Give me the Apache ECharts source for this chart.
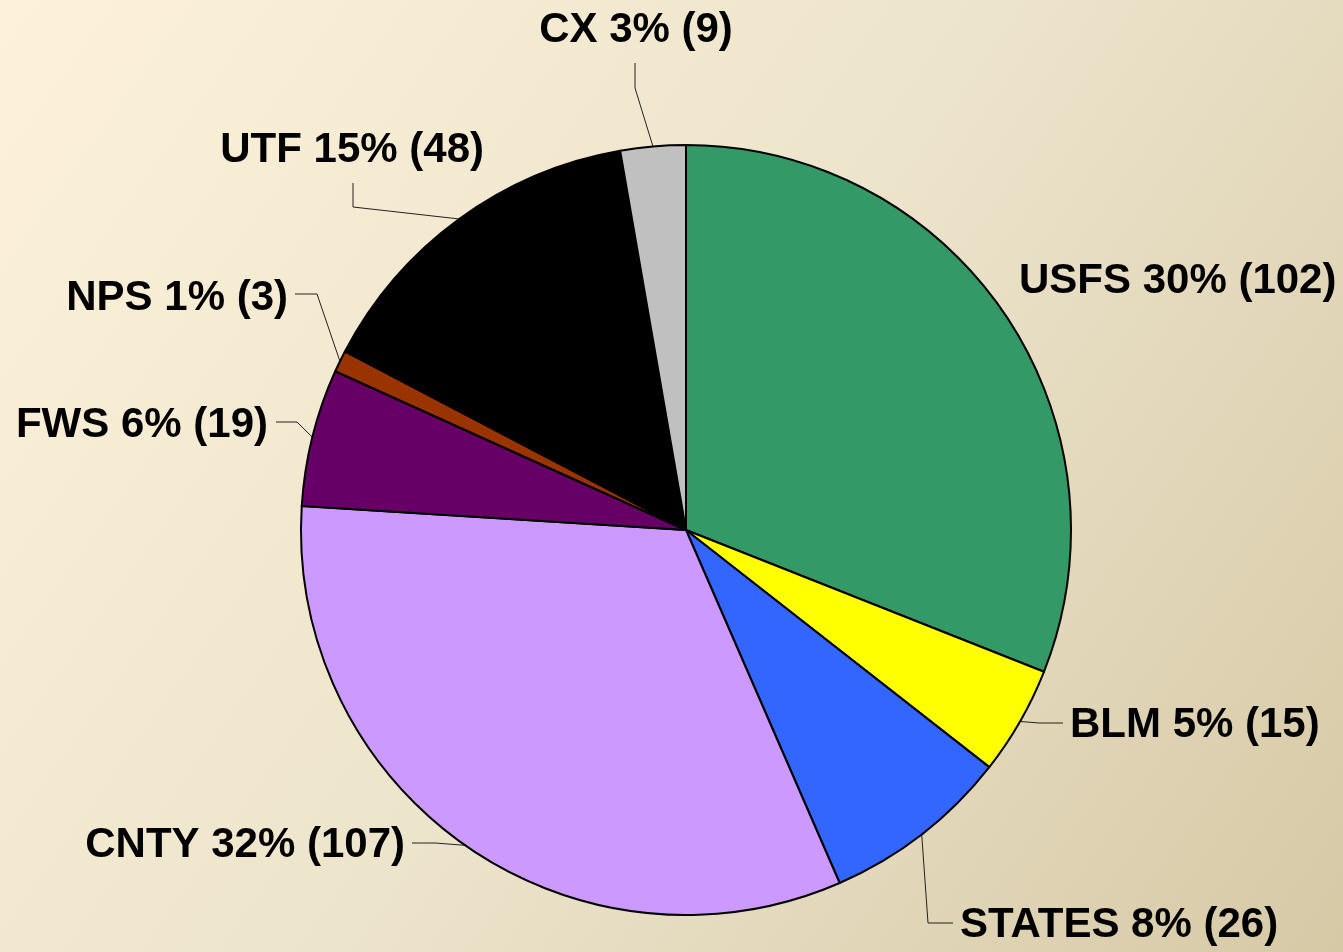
<!DOCTYPE html>
<html>
<head>
<meta charset="utf-8">
<script src="https://cdn.jsdelivr.net/npm/echarts@6/dist/echarts.min.js"></script>
<style>
  html, body { margin: 0; padding: 0; }
  #chart { width: 1343px; height: 952px; }
</style>
</head>
<body>
<div id="chart"></div>
<script>
// agencies, clockwise from 12 o'clock
const agencias = ['USFS', 'BLM', 'STATES', 'CNTY', 'FWS', 'NPS', 'UTF', 'CX'];
const cantidades = [102, 15, 26, 107, 19, 3, 48, 9];
const porcentajes = [30, 5, 8, 32, 6, 1, 15, 3];
const colores = ['#339966', '#ffff00', '#3366ff', '#cc99ff', '#660066', '#993300', '#000000', '#c0c0c0'];

// where each label sits (x, y of the text anchor) and the elbow of its leader
const posiciones = {
    USFS:   { x: 1019, y: 281, align: 'left',  elbow: null },
    BLM:    { x: 1070, y: 725, align: 'left',  elbow: [1039, 723], end: [1063, 723] },
    STATES: { x: 960,  y: 925, align: 'left',  elbow: [928, 923],  end: [953, 923] },
    CNTY:   { x: 405,  y: 845, align: 'right', elbow: [435, 843],  end: [412, 843] },
    FWS:    { x: 268,  y: 425, align: 'right', elbow: [297, 422],  end: [276, 422] },
    NPS:    { x: 288,  y: 298, align: 'right', elbow: [317, 294],  end: [295, 294] },
    UTF:    { x: 484,  y: 150, align: 'right', elbow: [353, 207],  end: [353, 183] },
    CX:     { x: 636,  y: 30,  align: 'center', elbow: [635, 88],  end: [635, 63] }
};

var myChart = echarts.init(document.getElementById('chart'));

const datos = agencias.map(function (nombre, i) {
    return {
        name: nombre,
        value: cantidades[i],
        itemStyle: { color: colores[i] },
        labelLine: { show: posiciones[nombre].elbow !== null }
    };
});

var option = {
    backgroundColor: {
        type: 'linear', x: 0, y: 0, x2: 1, y2: 1,
        colorStops: [
            { offset: 0, color: '#fdf1d9' },
            { offset: 0.5, color: '#ede4cc' },
            { offset: 1, color: '#d6c9a6' }
        ]
    },
    animation: false,
    series: [{
        type: 'pie',
        center: [686, 530],
        radius: 385,
        startAngle: 90,
        clockwise: true,
        avoidLabelOverlap: false,
        itemStyle: { borderColor: '#000', borderWidth: 2 },
        label: {
            show: true,
            position: 'outside',
            fontFamily: 'Liberation Sans, Arial, sans-serif',
            fontWeight: 'bold',
            fontSize: 42,
            color: '#000',
            formatter: function (p) {
                return p.name + ' ' + porcentajes[p.dataIndex] + '% (' + p.value + ')';
            }
        },
        labelLine: {
            show: true,
            length: 20,
            length2: 20,
            smooth: false,
            lineStyle: { color: '#222', width: 1 }
        },
        labelLayout: function (params) {
            const pos = posiciones[agencias[params.dataIndex]];
            const out = {
                x: pos.x,
                y: pos.y,
                align: pos.align,
                verticalAlign: 'middle'
            };
            if (pos.elbow && params.labelLinePoints) {
                out.labelLinePoints = [params.labelLinePoints[0], pos.elbow, pos.end];
            }
            return out;
        },
        data: datos
    }]
};

myChart.setOption(option);
</script>
</body>
</html>
